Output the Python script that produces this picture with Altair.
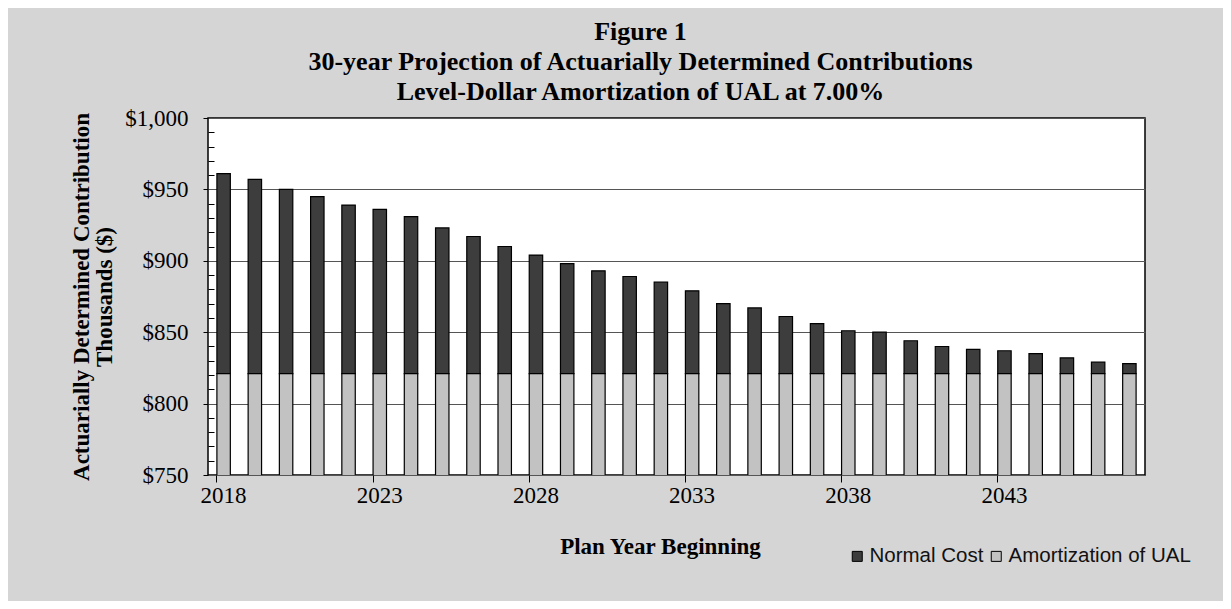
import altair as alt
import pandas as pd

years = [2018, 2019, 2020, 2021, 2022, 2023, 2024, 2025, 2026, 2027,
         2028, 2029, 2030, 2031, 2032, 2033, 2034, 2035, 2036, 2037,
         2038, 2039, 2040, 2041, 2042, 2043, 2044, 2045, 2046, 2047]
normal_cost = [140, 136, 129, 124, 118, 115, 110, 102, 96, 89,
               83, 77, 72, 68, 64, 58, 49, 46, 40, 35,
               30, 29, 23, 19, 17, 16, 14, 11, 8, 7]
amortization = [821, 821, 821, 821, 821, 821, 821, 821, 821, 821,
                821, 821, 821, 821, 821, 821, 821, 821, 821, 821,
                821, 821, 821, 821, 821, 821, 821, 821, 821, 821]
label_years = [2018, 2023, 2028, 2033, 2038, 2043]
major_ticks = [750, 800, 850, 900, 950, 1000]
minor_ticks = [760, 770, 780, 790, 810, 820, 830, 840, 860, 870, 880, 890,
               910, 920, 930, 940, 960, 970, 980, 990]
series = ["Normal Cost", "Amortization of UAL"]
colors = ["#3d3d3d", "#c2c2c2"]

df = pd.DataFrame({"year": years, "Normal Cost": normal_cost,
                   "Amortization of UAL": amortization})

SERIF = "Liberation Serif"
SANS = "Liberation Sans"

xscale = alt.Scale(paddingInner=0.57, paddingOuter=0.285)
yscale = alt.Scale(domain=[750, 1000], zero=False, nice=False)

bars = alt.Chart(df).transform_fold(
    series, as_=["series", "value"]
).transform_calculate(
    ord="datum.series === 'Amortization of UAL' ? 0 : 1"
).mark_bar(clip=True, stroke="black", strokeWidth=1.2).encode(
    x=alt.X("year:O", scale=xscale,
            axis=alt.Axis(values=label_years, labelAngle=0, ticks=False,
                          domain=False, labelFont=SERIF, labelFontSize=23,
                          labelColor="black", labelPadding=9,
                          title="Plan Year Beginning", titleFont=SERIF,
                          titleFontSize=23, titleFontWeight="bold",
                          titleColor="black", titlePadding=28,
                          titleX=452)),
    y=alt.Y("value:Q", stack="zero", scale=yscale,
            axis=alt.Axis(values=major_ticks, format="$,.0f", grid=True,
                          gridColor="#555555", gridWidth=1.2, domain=False,
                          tickSize=5, tickColor="black", labelFont=SERIF,
                          labelFontSize=23, labelColor="black",
                          labelPadding=15,
                          title=["Actuarially Determined Contribution",
                                 "Thousands ($)"],
                          titleFont=SERIF, titleFontSize=23,
                          titleFontWeight="bold", titleColor="black",
                          titleLineHeight=23, titlePadding=8)),
    color=alt.Color("series:N",
                    scale=alt.Scale(domain=series, range=colors),
                    legend=alt.Legend(orient="none", legendX=639,
                                      legendY=428, direction="horizontal",
                                      title=None, symbolType="square",
                                      symbolSize=100, symbolStrokeColor="black",
                                      symbolStrokeWidth=1,
                                      labelFont=SANS, labelFontSize=20.5,
                                      labelColor="#111111", labelOffset=2,
                                      labelLimit=0, columnPadding=2)),
    order=alt.Order("ord:Q", sort="ascending"),
)

ticks_layer = alt.Chart(df).mark_point(opacity=0).encode(
    x=alt.X("year:O", scale=xscale,
            axis=alt.Axis(orient="bottom", values=label_years, bandPosition=0,
                          labels=False, domain=False, ticks=True, tickSize=7,
                          tickColor="black", grid=False, title=None)),
    y=alt.Y("Amortization of UAL:Q", scale=yscale,
            axis=alt.Axis(orient="left", offset=-6, values=minor_ticks,
                          labels=False, domain=False, ticks=True, tickSize=6,
                          tickColor="black", grid=False, title=None)),
)

chart = alt.layer(bars, ticks_layer).resolve_axis(
    x="independent", y="independent"
).properties(
    width=937,
    height=357,
    autosize=alt.AutoSizeParams(type="none"),
    padding={"left": 200, "top": 110, "right": 78, "bottom": 126},
    background="#d5d5d5",
    title=alt.Title(
        ["Figure 1",
         "30-year Projection of Actuarially Determined Contributions",
         "Level-Dollar Amortization of UAL at 7.00%"],
        font=SERIF, fontSize=26, fontWeight="bold", lineHeight=30,
        color="black", anchor="middle", dx=-36, offset=2),
).configure_view(
    fill="white", stroke="black", strokeWidth=1.5
)

chart.save("out.html", embed_options={"renderer": "svg", "actions": False})
